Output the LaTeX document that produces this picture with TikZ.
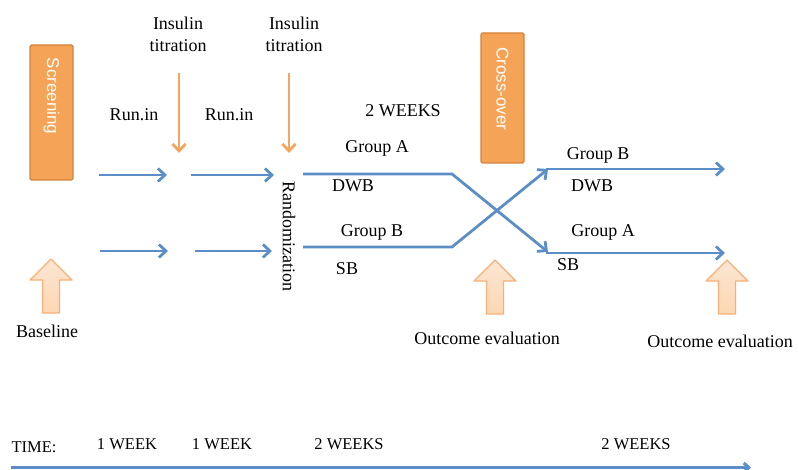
\documentclass[tikz,border=0pt]{standalone}
\usepackage{fontspec}
\setmainfont{Liberation Serif}
\setsansfont{Liberation Sans}
\usetikzlibrary{arrows.meta}
\definecolor{bluearr}{HTML}{5B8EC6}
\definecolor{orarr}{HTML}{F4A661}
\definecolor{boxfill}{HTML}{F5A457}
\definecolor{boxdraw}{HTML}{D5823A}
\definecolor{peach}{HTML}{FDD7B3}
\definecolor{peachtop}{HTML}{FCE6D3}
\definecolor{peachdraw}{HTML}{F8B077}
\tikzset{
  lbl/.style={font=\fontsize{18}{22}\selectfont, inner sep=0pt, align=center},
  tlbl/.style={font=\fontsize{16.5}{20}\selectfont, inner sep=0pt},
  bluearrow/.style={draw=bluearr, line width=2.8pt, -{Straight Barb[length=7pt,width=13pt,line width=2.8pt]}},
  timearrow/.style={draw=bluearr, line width=3.2pt, -{Straight Barb[length=5pt,width=9pt,line width=3pt]}},
  orangearrow/.style={draw=orarr, line width=2.8pt, -{Straight Barb[length=7pt,width=13pt,line width=2.8pt]}},
  phasebox/.style={draw=boxdraw, fill=boxfill, line width=1.2pt, rounded corners=1.5pt, minimum width=43pt, minimum height=#1, inner sep=0pt},
  boxtext/.style={rotate=-90, inner sep=0pt, text=white, font=\sffamily\fontsize{17}{20}\selectfont},
  uparrow/.pic={\draw[draw=peachdraw, top color=peachtop, bottom color=peach, line width=1.3pt, line join=round]
      (0,0) -- (21,21) -- (8.5,21) -- (8.5,54) -- (-8.5,54) -- (-8.5,21) -- (-21,21) -- cycle;}
}
\begin{document}
\begin{tikzpicture}[x=1pt, y=-1pt]
\useasboundingbox (0,0) rectangle (799,470);

% phase boxes
\node[phasebox=135pt] (screen) at (51.5,112.5) {};
\node[boxtext] (screentxt) at (51.5,96) {Screening};
\node[phasebox=130pt] (cross) at (502.5,98) {};
\node[boxtext] (crosstxt) at (502.5,89) {Cross-over};

% insulin titration
\node[lbl] (ins1) at (178,34) {Insulin\\titration};
\node[lbl] (ins2) at (294,34) {Insulin\\titration};
\coordinate (d1s) at (179,73); \coordinate (d1e) at (179,153);
\coordinate (d2s) at (289,73); \coordinate (d2e) at (289,153);
\draw[orangearrow] (d1s) -- (d1e);
\draw[orangearrow] (d2s) -- (d2e);

\node[lbl] (run1) at (134,115) {Run.in};
\node[lbl] (run2) at (229,115) {Run.in};
\node[lbl] (twoweeks) at (403,111) {2 WEEKS};

% run-in arrows
\coordinate (a1s) at (99,175);  \coordinate (a1e) at (167,175);
\coordinate (a2s) at (191,175); \coordinate (a2e) at (274,175);
\coordinate (b1s) at (100,251); \coordinate (b1e) at (168,251);
\coordinate (b2s) at (195,251); \coordinate (b2e) at (272,251);
\draw[bluearrow] (a1s) -- (a1e);
\draw[bluearrow] (a2s) -- (a2e);
\draw[bluearrow] (b1s) -- (b1e);
\draw[bluearrow] (b2s) -- (b2e);

\node[lbl, rotate=-90] (rand) at (289,236) {Randomization};

% group lines
\coordinate (gAs) at (303,174); \coordinate (gAb) at (452,174); \coordinate (gAe) at (548,252);
\coordinate (gBs) at (303,247); \coordinate (gBb) at (452,247); \coordinate (gBe) at (548,169);
\coordinate (rBs) at (546,169); \coordinate (rBe) at (725,169);
\coordinate (rAs) at (546,253); \coordinate (rAe) at (725,253);
\draw[bluearrow] (gAs) -- (gAb) -- (gAe);
\draw[bluearrow] (gBs) -- (gBb) -- (gBe);
\draw[bluearrow] (rBs) -- (rBe);
\draw[bluearrow] (rAs) -- (rAe);

\node[lbl] (lga) at (377,148) {Group A};
\node[lbl] (ldwb) at (353,186) {DWB};
\node[lbl] (lgb) at (372,232) {Group B};
\node[lbl] (lsb) at (347,269) {SB};
\node[lbl] (rgb) at (598,155) {Group B};
\node[lbl] (rdwb) at (592,186) {DWB};
\node[lbl] (rga) at (603,232) {Group A};
\node[lbl] (rsb) at (568,265) {SB};

% block up arrows
\pic at (51,259) {uparrow};
\pic at (495,260) {uparrow};
\pic at (727,260) {uparrow};
\node[lbl] (base) at (47,331) {Baseline};
\node[lbl] (out1) at (487,338) {Outcome evaluation};
\node[lbl] (out2) at (720,341) {Outcome evaluation};

% time line
\node[tlbl] (time) at (34,447) {TIME:};
\node[tlbl] (w1) at (127,444) {1 WEEK};
\node[tlbl] (w2) at (222,444) {1 WEEK};
\node[tlbl] (w3) at (349,444) {2 WEEKS};
\node[tlbl] (w4) at (636,444) {2 WEEKS};
\coordinate (ts) at (11,467.5); \coordinate (te) at (751,467.5);
\draw[timearrow] (ts) -- (te);
\end{tikzpicture}
\end{document}
